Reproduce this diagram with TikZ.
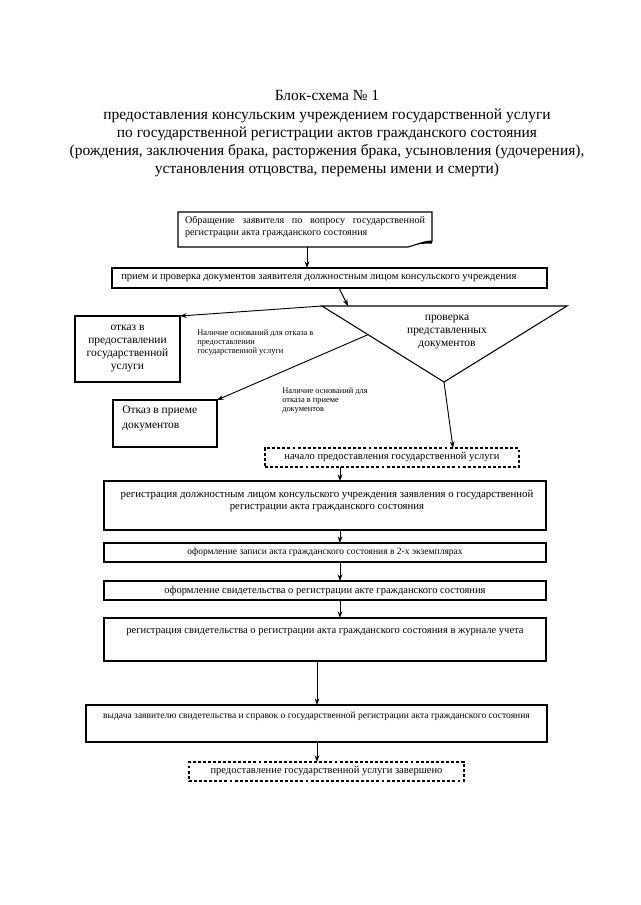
\documentclass[tikz,border=0pt]{standalone}
\usepackage{fontspec}
\setmainfont{Liberation Serif}
\usetikzlibrary{arrows.meta,calc}
\tikzset{
  box/.style={draw, line width=0.8pt, inner sep=0pt, outer sep=0pt},
  dbox/.style={box, dash pattern=on 2.2pt off 1.6pt},
  arr/.style={-{Stealth[length=5pt,width=3.6pt]}, line width=0.7pt},
  btxt/.style={inner sep=0pt, font=\fontsize{7.9}{9}\selectfont},
  stxt/.style={inner sep=0pt, font=\fontsize{7.15}{9}\selectfont},
  btxtbig/.style={inner sep=0pt, font=\fontsize{8.6}{9.75}\selectfont},
  lbl/.style={inner sep=0pt, align=left, font=\fontsize{6.3}{7.1}\selectfont},
}
\begin{document}
\begin{tikzpicture}[x=0.75pt,y=-0.75pt]
\fill[white] (0,0) rectangle (640,905);
\useasboundingbox (0,0) rectangle (640,905);

% title
\node[inner sep=0pt, align=center, font=\fontsize{11.6}{13.7}\selectfont] (title) at (327,134)
 {Блок-схема № 1\\
  предоставления консульским учреждением государственной услуги\\
  по государственной регистрации актов гражданского состояния\\
  (рождения, заключения брака, расторжения брака, усыновления (удочерения),\\
  установления отцовства, перемены имени и смерти)};

% box 1 (document shape)
\node[minimum width=190.5pt, minimum height=26.25pt, inner sep=0pt, outer sep=0pt] (b1) at (305,229.5) {};
\draw[line width=0.8pt] (b1.south west) -- (b1.north west) -- (b1.north east)
  -- ($(b1.south east)+(0,-6)$) .. controls +(-8,0) and +(8,-2) .. ($(b1.south east)+(-24,0)$) -- cycle;
\fill ($(b1.south east)+(0,-6)$) .. controls +(-8,0) and +(8,-2) .. ($(b1.south east)+(-24,0)$)
  .. controls +(8,-3) and +(-8,0) .. ($(b1.south east)+(0,-3.5)$) -- cycle;
\node[inner sep=0pt, font=\fontsize{7.6}{9.5}\selectfont] (t1) at (305,227)
 {\parbox{180pt}{\hyphenpenalty=10000\noindent Обращение заявителя по вопросу государственной\linebreak регистрации акта гражданского состояния}};

% box 2
\node[box, minimum width=326.25pt, minimum height=15pt] (b2) at (329.5,278) {};
\node[btxt, anchor=west] (t2) at ($(b2.west)+(9,0)$) {прием и проверка документов заявителя должностным лицом консульского учреждения};

% triangle
\coordinate (tl) at (322,306);
\coordinate (tr) at (567,306);
\coordinate (tb) at (444,382);
\coordinate (tin) at (348,306);
\draw[line width=0.8pt] (tl) -- (tr) -- (tb) -- cycle;
\node[btxtbig, align=center] (tt) at (447,332) {проверка\\представленных\\документов};

% refusal boxes
\node[box, minimum width=78.75pt, minimum height=49.5pt] (o1) at (127.5,349) {};
\node[btxtbig, align=center] (to1) at (o1.center) {отказ в\\предоставлении\\государственной\\услуги};
\node[box, minimum width=78pt, minimum height=35.25pt] (o2) at (165,423.5) {};
\node[inner sep=0pt, align=left, anchor=north west, font=\fontsize{8.6}{11.25}\selectfont] (to2) at ($(o2.north west)+(9,6)$) {Отказ в приеме\\документов};

% labels
\node[lbl, anchor=west] (l1) at (197,342.5) {Наличие оснований для отказа в\\предоставлении\\государственной услуги};
\node[lbl, anchor=west] (l2) at (282,400.5) {Наличие оснований для\\отказа в приеме\\документов};

% dashed start box
\node[dbox, minimum width=190.5pt, minimum height=14.25pt] (d1) at (392,457.5) {};
\node[btxt] (td1) at (d1.center) {начало предоставления государственной услуги};

% main chain
\node[box, minimum width=331.5pt, minimum height=36.75pt] (r1) at (325,505.5) {};
\node[inner sep=0pt, align=center, font=\fontsize{8.1}{9}\selectfont] (tr1) at (327,501)
 {регистрация должностным лицом консульского учреждения заявления о государственной\\регистрации акта гражданского состояния};
\node[box, minimum width=331.5pt, minimum height=14.25pt] (b3) at (325,552.5) {};
\node[stxt] (t3) at (b3.center) {оформление записи акта гражданского состояния в 2-х экземплярах};
\node[box, minimum width=331.5pt, minimum height=14.25pt] (b4) at (325,590.5) {};
\node[btxt] (t4) at (b4.center) {оформление свидетельства о регистрации акте гражданского состояния};
\node[box, minimum width=331.5pt, minimum height=32.25pt] (b5) at (325,639.5) {};
\node[btxt] (t5) at (325,632) {регистрация свидетельства о регистрации акта гражданского состояния в журнале учета};
\node[box, minimum width=345.75pt, minimum height=27.75pt] (b6) at (316.5,723.5) {};
\node[stxt] (t6) at (316.5,716) {выдача заявителю свидетельства и справок о государственной регистрации акта гражданского состояния};
\node[dbox, minimum width=206.25pt, minimum height=14.25pt] (d2) at (326.5,771.5) {};
\node[btxt] (td2) at (d2.center) {предоставление государственной услуги завершено};

% connector start points
\coordinate (s1) at ($(b1.south)+(2,0)$);
\coordinate (s2) at ($(b2.south)+(9.5,0)$);
\coordinate (s3) at ($(tl)!0.377!(tb)$);
\coordinate (e4) at ($(d1.north west)+(188,0)$);
\coordinate (s5) at ($(d1.south west)+(75,0)$);
\coordinate (s6) at ($(r1.south)+(15,0)$);
\coordinate (s7) at ($(b3.south)+(15,0)$);
\coordinate (s8) at ($(b4.south)+(15,0)$);
\coordinate (s9) at ($(b5.south)+(-8,0)$);
\coordinate (s10) at ($(b6.south)+(0.5,0)$);

% connectors
\draw[arr] (s1) -- (s1 |- b2.north);
\draw[arr] (s2) -- (tin);
\draw[arr] (tl) -- (o1.north east);
\draw[arr] (s3) -- (o2.north east);
\draw[arr] (tb) -- (e4);
\draw[arr] (s5) -- (s5 |- r1.north);
\draw[arr] (s6) -- (s6 |- b3.north);
\draw[arr] (s7) -- (s7 |- b4.north);
\draw[arr] (s8) -- (s8 |- b5.north);
\draw[arr] (s9) -- (s9 |- b6.north);
\draw[arr] (s10) -- (s10 |- d2.north);
\end{tikzpicture}
\end{document}
